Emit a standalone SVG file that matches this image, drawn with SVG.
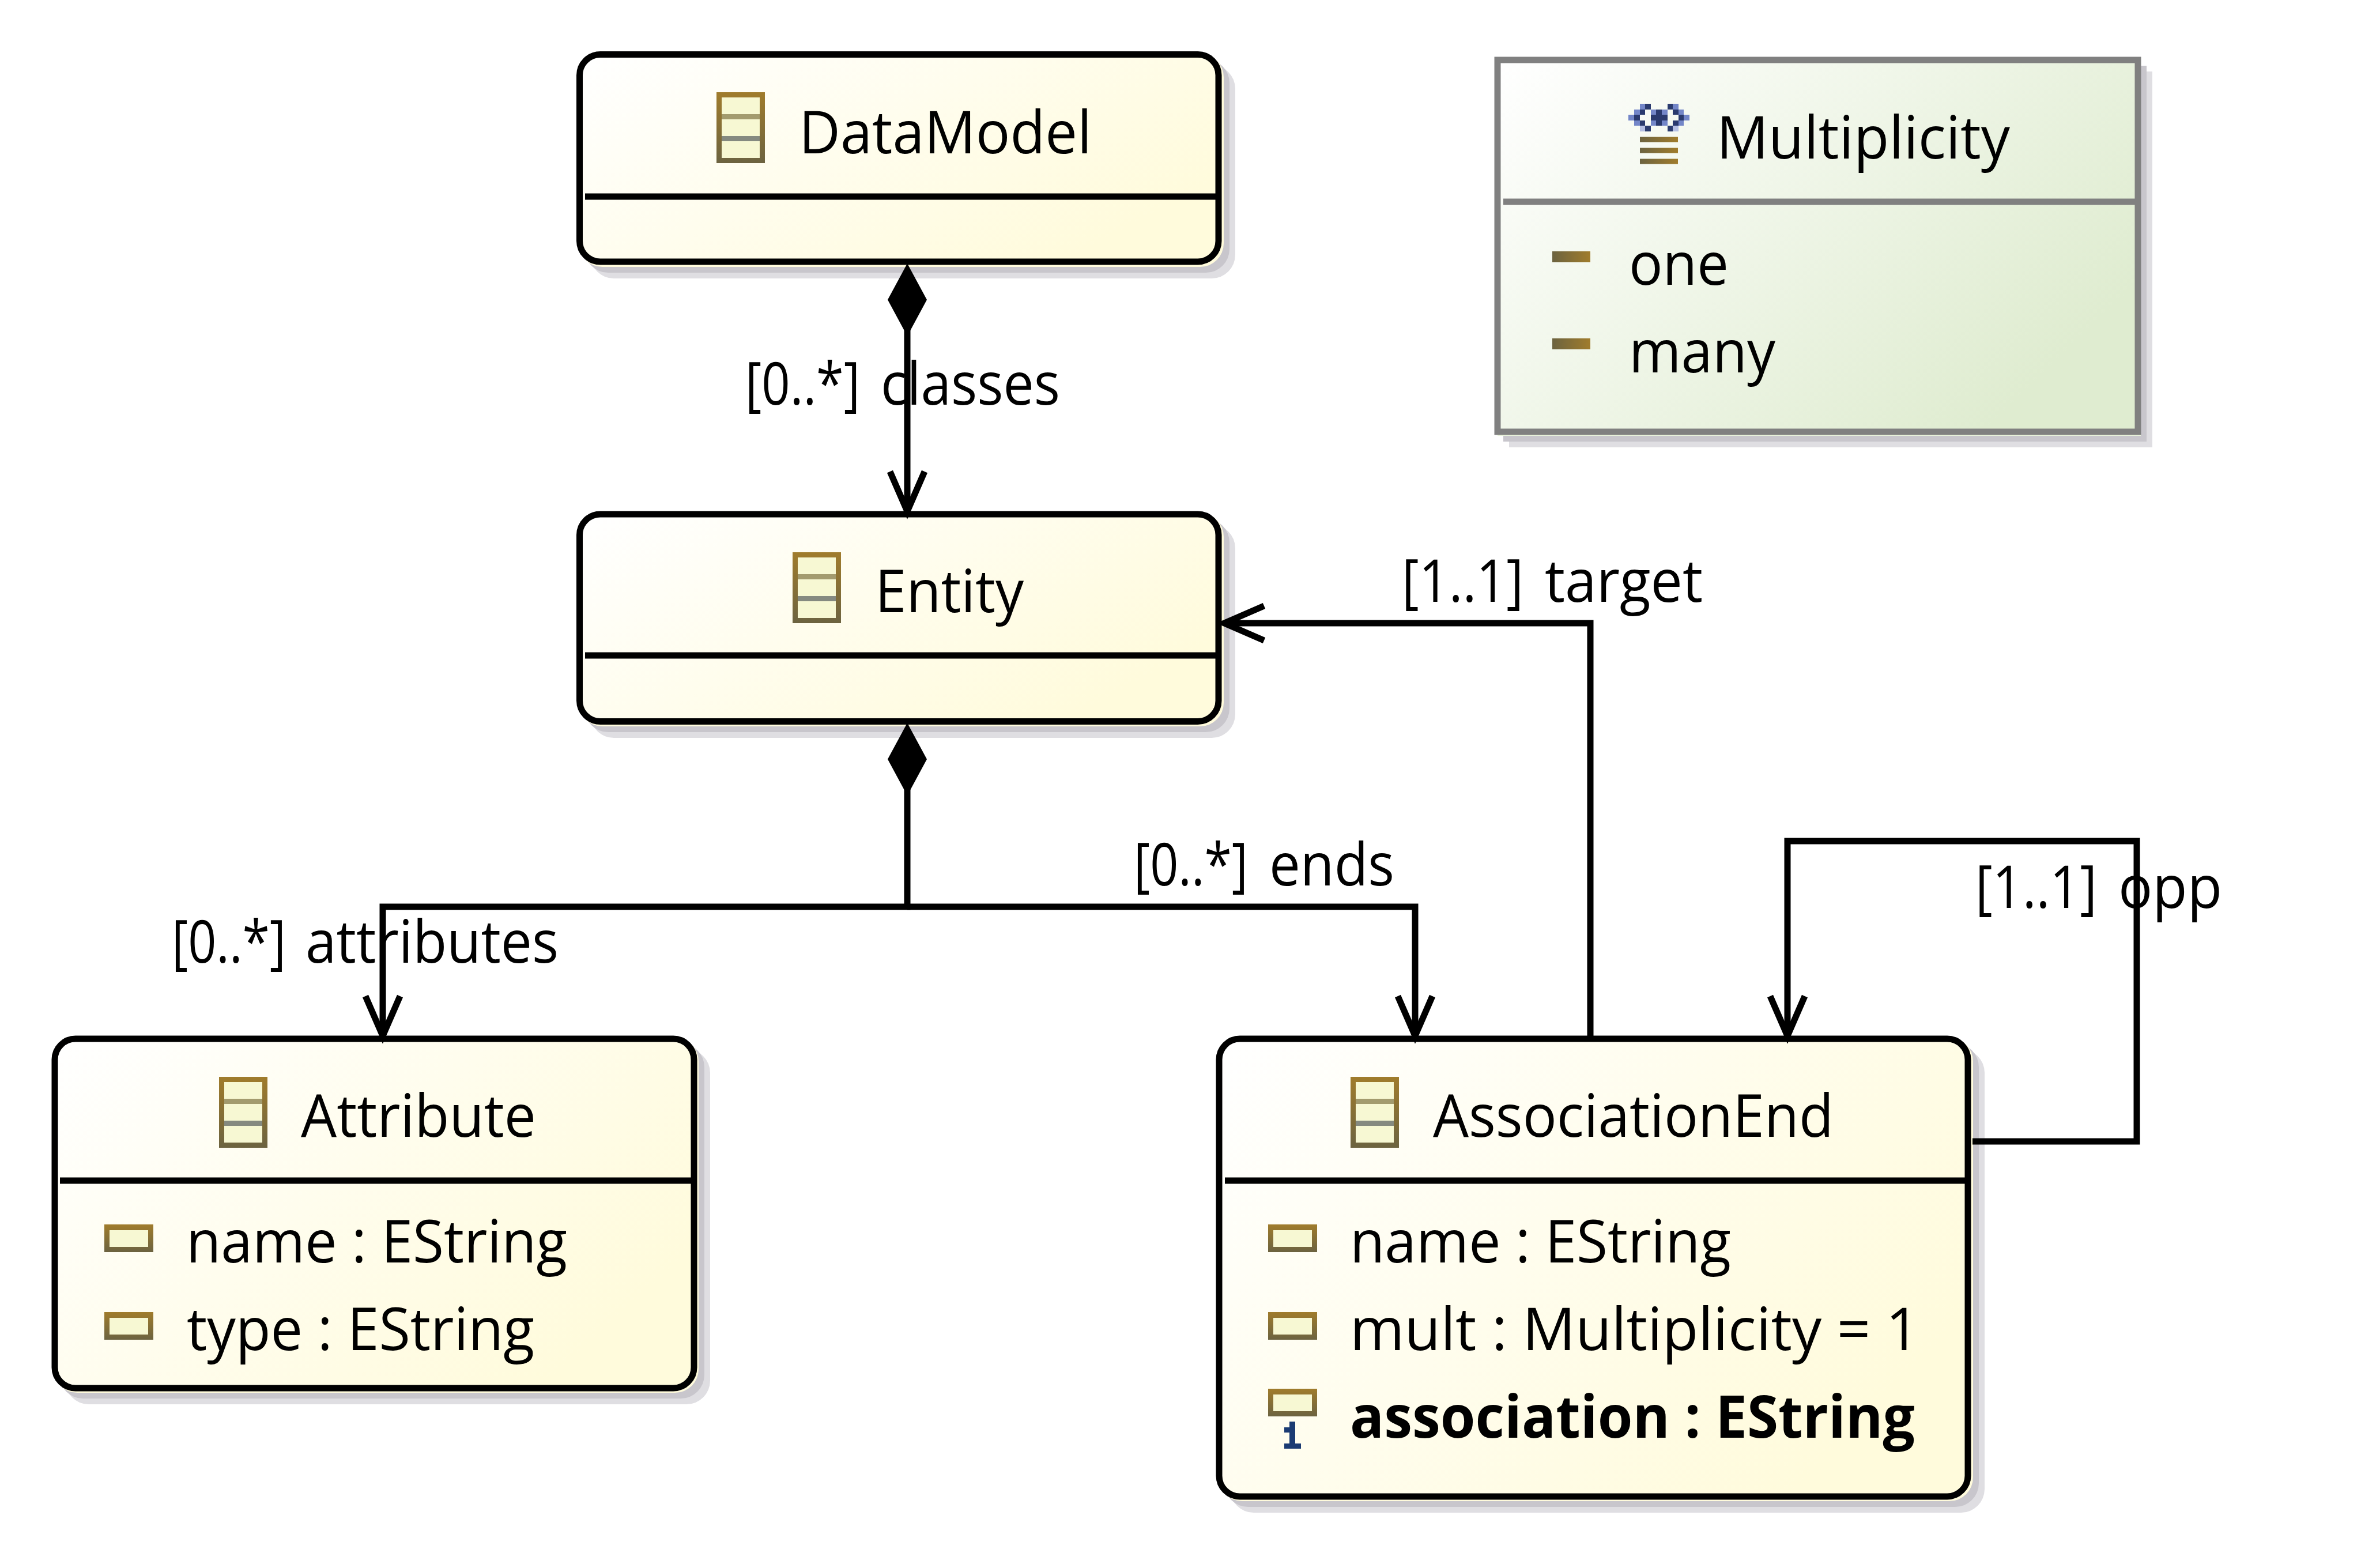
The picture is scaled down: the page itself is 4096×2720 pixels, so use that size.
<svg xmlns="http://www.w3.org/2000/svg" xmlns:xlink="http://www.w3.org/1999/xlink" width="4096" height="2720" viewBox="0 0 4096 2720">
<style>
text{font-family:"Open Sans","Noto Sans","Liberation Sans",sans-serif;font-size:102px;fill:#000}
.b{font-weight:700}
.box{fill:url(#cls);stroke:#000;stroke-width:11}
.enum{fill:url(#enm);stroke:#808080;stroke-width:11}
.sep{stroke:#000;stroke-width:11}
.sepg{stroke:#808080;stroke-width:11}
.s1{fill:#dfdee2}.s2{fill:#c8c6cc}.s3{fill:#fffbdc}.s4{fill:#e9f3dc}
.con{fill:none;stroke:#000;stroke-width:11}
.arr{marker-end:url(#open)}
.dia{fill:#000}
.bar{fill:url(#barg)}
</style>
<defs>
<linearGradient id="cls" x1="0" y1="0" x2="1" y2="0.6"><stop offset="0" stop-color="#ffffff"/><stop offset="1" stop-color="#fffbdc"/></linearGradient>
<linearGradient id="enm" x1="0" y1="0" x2="1" y2="0.6"><stop offset="0" stop-color="#ffffff"/><stop offset="1" stop-color="#dfecd0"/></linearGradient>
<linearGradient id="frame" x1="0" y1="0" x2="0" y2="1"><stop offset="0" stop-color="#a07c2c"/><stop offset="1" stop-color="#6c6340"/></linearGradient>
<linearGradient id="barg" x1="0" y1="0" x2="1" y2="0"><stop offset="0" stop-color="#6c6340"/><stop offset="1" stop-color="#a07c2c"/></linearGradient>
<marker id="open" markerUnits="userSpaceOnUse" markerWidth="90" markerHeight="90" refX="80" refY="45" orient="auto" overflow="visible"><path d="M11 15L80 45L11 75" fill="none" stroke="#000" stroke-width="11"/></marker>
<g id="clsIcon" shape-rendering="crispEdges">
<rect width="84" height="123" fill="url(#frame)"/>
<rect x="9" y="9" width="66" height="105" fill="#f7f8d3"/>
<rect x="9" y="38" width="66" height="9" fill="#a39b6e"/>
<rect x="9" y="76" width="66" height="9" fill="#858a80"/>
</g>
<g id="attrIcon" shape-rendering="crispEdges">
<rect width="85" height="48" fill="url(#frame)"/>
<rect x="9" y="10" width="67" height="29" fill="#f7f8d3"/>
</g>
</defs>

<g id="DataModel">
<rect class="s1" x="1024" y="113" width="1119" height="370" rx="41"/>
<rect class="s2" x="1014" y="103" width="1119" height="370" rx="41"/>
<rect class="s3" x="1004" y="93" width="1119" height="370" rx="41"/>
<rect class="box" x="1005.5" y="94.5" width="1108.5" height="359.5" rx="36"/>
<line class="sep" x1="1015" y1="341" x2="2114" y2="341"/>
<use xlink:href="#clsIcon" href="#clsIcon" x="1243" y="160"/>
<text x="1386" y="266" textLength="508" lengthAdjust="spacingAndGlyphs">DataModel</text>
</g>

<g id="Entity">
<rect class="s1" x="1024" y="910" width="1119" height="370" rx="41"/>
<rect class="s2" x="1014" y="900" width="1119" height="370" rx="41"/>
<rect class="s3" x="1004" y="890" width="1119" height="370" rx="41"/>
<rect class="box" x="1005.5" y="892" width="1108.5" height="359.5" rx="36"/>
<line class="sep" x1="1015" y1="1137" x2="2114" y2="1137"/>
<use xlink:href="#clsIcon" href="#clsIcon" x="1375" y="958"/>
<text x="1518" y="1062" textLength="258" lengthAdjust="spacingAndGlyphs">Entity</text>
</g>

<g id="Attribute">
<rect class="s1" x="113" y="1820" width="1119" height="616" rx="41"/>
<rect class="s2" x="103" y="1810" width="1119" height="616" rx="41"/>
<rect class="s3" x="93" y="1800" width="1119" height="616" rx="41"/>
<rect class="box" x="95" y="1802" width="1109" height="606" rx="36"/>
<line class="sep" x1="104" y1="2048" x2="1204" y2="2048"/>
<use xlink:href="#clsIcon" href="#clsIcon" x="380" y="1868"/>
<text x="522" y="1972" textLength="408" lengthAdjust="spacingAndGlyphs">Attribute</text>
<use xlink:href="#attrIcon" href="#attrIcon" x="181" y="2124"/>
<text x="323" y="2190" textLength="661" lengthAdjust="spacingAndGlyphs">name : EString</text>
<use xlink:href="#attrIcon" href="#attrIcon" x="181" y="2276"/>
<text x="324" y="2342" textLength="603" lengthAdjust="spacingAndGlyphs">type : EString</text>
</g>

<g id="AssociationEnd">
<rect class="s1" x="2134" y="1820" width="1309" height="804" rx="41"/>
<rect class="s2" x="2124" y="1810" width="1309" height="804" rx="41"/>
<rect class="s3" x="2114" y="1800" width="1309" height="804" rx="41"/>
<rect class="box" x="2115" y="1802" width="1299" height="794" rx="36"/>
<line class="sep" x1="2125" y1="2048" x2="3414" y2="2048"/>
<use xlink:href="#clsIcon" href="#clsIcon" x="2343" y="1868"/>
<text x="2486" y="1972" textLength="695" lengthAdjust="spacingAndGlyphs">AssociationEnd</text>
<use xlink:href="#attrIcon" href="#attrIcon" x="2200" y="2124"/>
<text x="2342" y="2190" textLength="661" lengthAdjust="spacingAndGlyphs">name : EString</text>
<use xlink:href="#attrIcon" href="#attrIcon" x="2200" y="2276"/>
<text x="2342" y="2342" textLength="988" lengthAdjust="spacingAndGlyphs">mult : Multiplicity = 1</text>
<use xlink:href="#attrIcon" href="#attrIcon" x="2200" y="2409"/>
<path d="M2237 2466h10v38h10v9h-29v-9h9v-19h-9v-9h9z" fill="#1b3b73" shape-rendering="crispEdges"/>
<text class="b" x="2342" y="2494" textLength="980" lengthAdjust="spacingAndGlyphs">association : EString</text>
</g>

<g id="Multiplicity">
<rect class="s1" x="2618" y="124" width="1116" height="652"/>
<rect class="s2" x="2608" y="114" width="1116" height="652"/>
<rect class="s4" x="2598" y="104" width="1116" height="652"/>
<rect class="enum" x="2598" y="104" width="1111" height="645"/>
<line class="sepg" x1="2608" y1="350" x2="3709" y2="350"/>
<g transform="translate(2825.4 180) scale(9.6 9.5)" shape-rendering="crispEdges">
<path fill="#7386c8" d="M2 0h1v1h-1zM8 0h1v1h-1zM1 1h1v1h-1zM4 1h1v1h-1zM6 1h1v1h-1zM9 1h1v1h-1zM0 2h1v1h-1zM10 2h1v1h-1zM1 3h1v1h-1zM4 3h1v1h-1zM6 3h1v1h-1zM9 3h1v1h-1z"/>
<path fill="#2a3a6e" d="M3 0h1v1h-1zM7 0h1v1h-1zM2 1h1v1h-1zM5 1h1v1h-1zM8 1h1v1h-1zM1 2h1v1h-1zM4 2h3v1h-3zM9 2h1v1h-1zM2 3h1v1h-1zM5 3h1v1h-1zM8 3h1v1h-1zM3 4h1v1h-1zM7 4h1v1h-1z"/>
<path fill="#b5bfe3" d="M2 4h1v1h-1zM8 4h1v1h-1z"/>
</g>
<rect class="bar" x="2845" y="237.5" width="66" height="9"/>
<rect class="bar" x="2845" y="256.5" width="66" height="9"/>
<rect class="bar" x="2845" y="275.5" width="66" height="9"/>
<text x="2978" y="275" textLength="509" lengthAdjust="spacingAndGlyphs">Multiplicity</text>
<rect class="bar" x="2693" y="436" width="66" height="19"/>
<text x="2826" y="494" textLength="173" lengthAdjust="spacingAndGlyphs">one</text>
<rect class="bar" x="2693" y="587" width="66" height="19"/>
<text x="2826" y="646" textLength="254" lengthAdjust="spacingAndGlyphs">many</text>
</g>

<g id="connectors">
<path class="con arr" d="M1574 560V887"/>
<path class="dia" d="M1574 457L1608 520L1574 583L1540 520Z"/>
<path class="con arr" d="M1574 1360V1573H664V1797"/>
<path class="con arr" d="M1574 1573H2455V1797"/>
<path class="dia" d="M1574 1254L1608 1317L1574 1380L1540 1317Z"/>
<path class="con arr" d="M2759 1797V1081H2124"/>
<path class="con arr" d="M3422 1980H3707V1459H3101V1797"/>
<text y="702"><tspan x="1293" textLength="199" lengthAdjust="spacingAndGlyphs">[0..*]</tspan> <tspan x="1528" textLength="311" lengthAdjust="spacingAndGlyphs">classes</tspan></text>
<text y="1670"><tspan x="298" textLength="198" lengthAdjust="spacingAndGlyphs">[0..*]</tspan> <tspan x="530" textLength="439" lengthAdjust="spacingAndGlyphs">attributes</tspan></text>
<text y="1536"><tspan x="1967" textLength="198" lengthAdjust="spacingAndGlyphs">[0..*]</tspan> <tspan x="2202" textLength="217" lengthAdjust="spacingAndGlyphs">ends</tspan></text>
<text y="1044"><tspan x="2432" textLength="211" lengthAdjust="spacingAndGlyphs">[1..1]</tspan> <tspan x="2680" textLength="274" lengthAdjust="spacingAndGlyphs">target</tspan></text>
<text y="1575"><tspan x="3427" textLength="211" lengthAdjust="spacingAndGlyphs">[1..1]</tspan> <tspan x="3675" textLength="180" lengthAdjust="spacingAndGlyphs">opp</tspan></text>
</g>
</svg>
